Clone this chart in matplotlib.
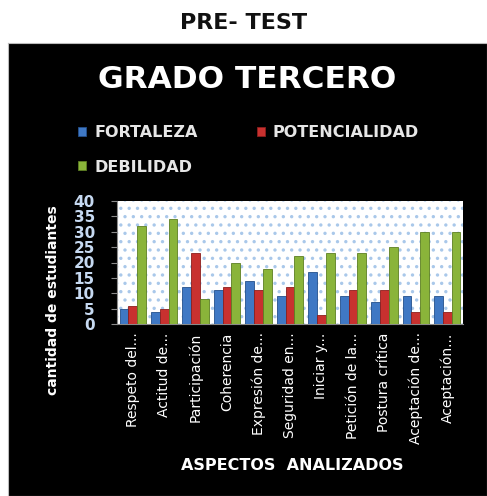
import numpy as np
import matplotlib
matplotlib.use("Agg")
import matplotlib.pyplot as plt
from matplotlib.patches import Rectangle

# data
aspectos = ["Respeto del...", "Actitud de...", "Participación", "Coherencia",
            "Expresión de...", "Seguridad en...", "Iniciar y...", "Petición de la...",
            "Postura crítica", "Aceptación de...", "Aceptación..."]
fortaleza = [5, 4, 12, 11, 14, 9, 17, 9, 7, 9, 9]
potencialidad = [6, 5, 23, 12, 11, 12, 3, 11, 11, 4, 4]
debilidad = [32, 34, 8, 20, 18, 22, 23, 23, 25, 30, 30]
series_names = ["FORTALEZA", "POTENCIALIDAD", "DEBILIDAD"]
colors = ["#3f78c4", "#c8312f", "#8ab43a"]
edges = ["#24508c", "#8c1f1d", "#5d7f22"]

plt.rcParams["hatch.linewidth"] = 1.2

fig = plt.figure(figsize=(4.87, 4.96), dpi=100)
fig.patch.set_facecolor("white")

# black panel behind the chart
bg = fig.add_axes([8 / 487, 0, 1 - 8 / 487, 1 - 43 / 496], zorder=-5)
bg.set_facecolor("black")
bg.set_xticks([])
bg.set_yticks([])
for s in bg.spines.values():
    s.set_color("#bbbbbb")

fig.text(0.5, 1 - 23 / 496, "PRE- TEST", ha="center", va="center",
         fontsize=16, fontweight="bold", color="#111111")
fig.text(0.507, 1 - 80 / 496, "GRADO TERCERO", ha="center", va="center",
         fontsize=22.5, fontweight="bold", color="white")

ax = fig.add_axes([117 / 487, 1 - 324 / 496, 346 / 487, 123 / 496])
ax.set_facecolor("white")
ax.add_patch(Rectangle((0, 0), 1, 1, transform=ax.transAxes, facecolor="none",
                       edgecolor="#a9c8ea", hatch="..", linewidth=0, zorder=0))

x = np.arange(len(aspectos))
w = 0.28
handles = []
for i, vals in enumerate([fortaleza, potencialidad, debilidad]):
    b = ax.bar(x + (i - 1) * w, vals, w, color=colors[i], edgecolor=edges[i],
               linewidth=0.6, label=series_names[i], zorder=3)
    handles.append(b)

ax.set_xlim(-0.5, len(aspectos) - 0.5)
ax.set_ylim(0, 40)
ax.set_yticks(range(0, 41, 5))
ax.set_xticks(x)
ax.set_xticklabels(aspectos, rotation=90, fontsize=10)
ax.tick_params(axis="y", colors="#8a8a8a", labelcolor="#c6d9f1", labelsize=11,
               length=4, pad=12)
ax.tick_params(axis="x", colors="#8a8a8a", labelcolor="white", length=0, pad=6)
for lbl in ax.get_yticklabels():
    lbl.set_fontweight("bold")
for s in ["top", "right"]:
    ax.spines[s].set_visible(False)
ax.spines["left"].set_color("#8a8a8a")
ax.spines["bottom"].set_color("#8a8a8a")

fig.text(53 / 487, 1 - 300 / 496, "cantidad de estudiantes", rotation=90,
         ha="center", va="center", color="white", fontsize=10, fontweight="bold")
fig.text(292 / 487, 1 - 465 / 496, "ASPECTOS  ANALIZADOS", ha="center", va="center",
         color="white", fontsize=11.5, fontweight="bold")

# legend: row 1 FORTALEZA / POTENCIALIDAD, row 2 DEBILIDAD
leg = fig.legend([handles[0], handles[2], handles[1]],
                 [series_names[0], series_names[2], series_names[1]],
                 ncol=2, loc="upper left", bbox_to_anchor=(64 / 487, 1 - 111 / 496),
                 frameon=False, handlelength=0.5, handleheight=0.5, handletextpad=0.5,
                 columnspacing=3.7, labelspacing=1.2,
                 prop={"weight": "bold", "size": 11.5})
for t in leg.get_texts():
    t.set_color("#e6e6e6")

fig.savefig("out.png", dpi=100, facecolor=fig.get_facecolor())
